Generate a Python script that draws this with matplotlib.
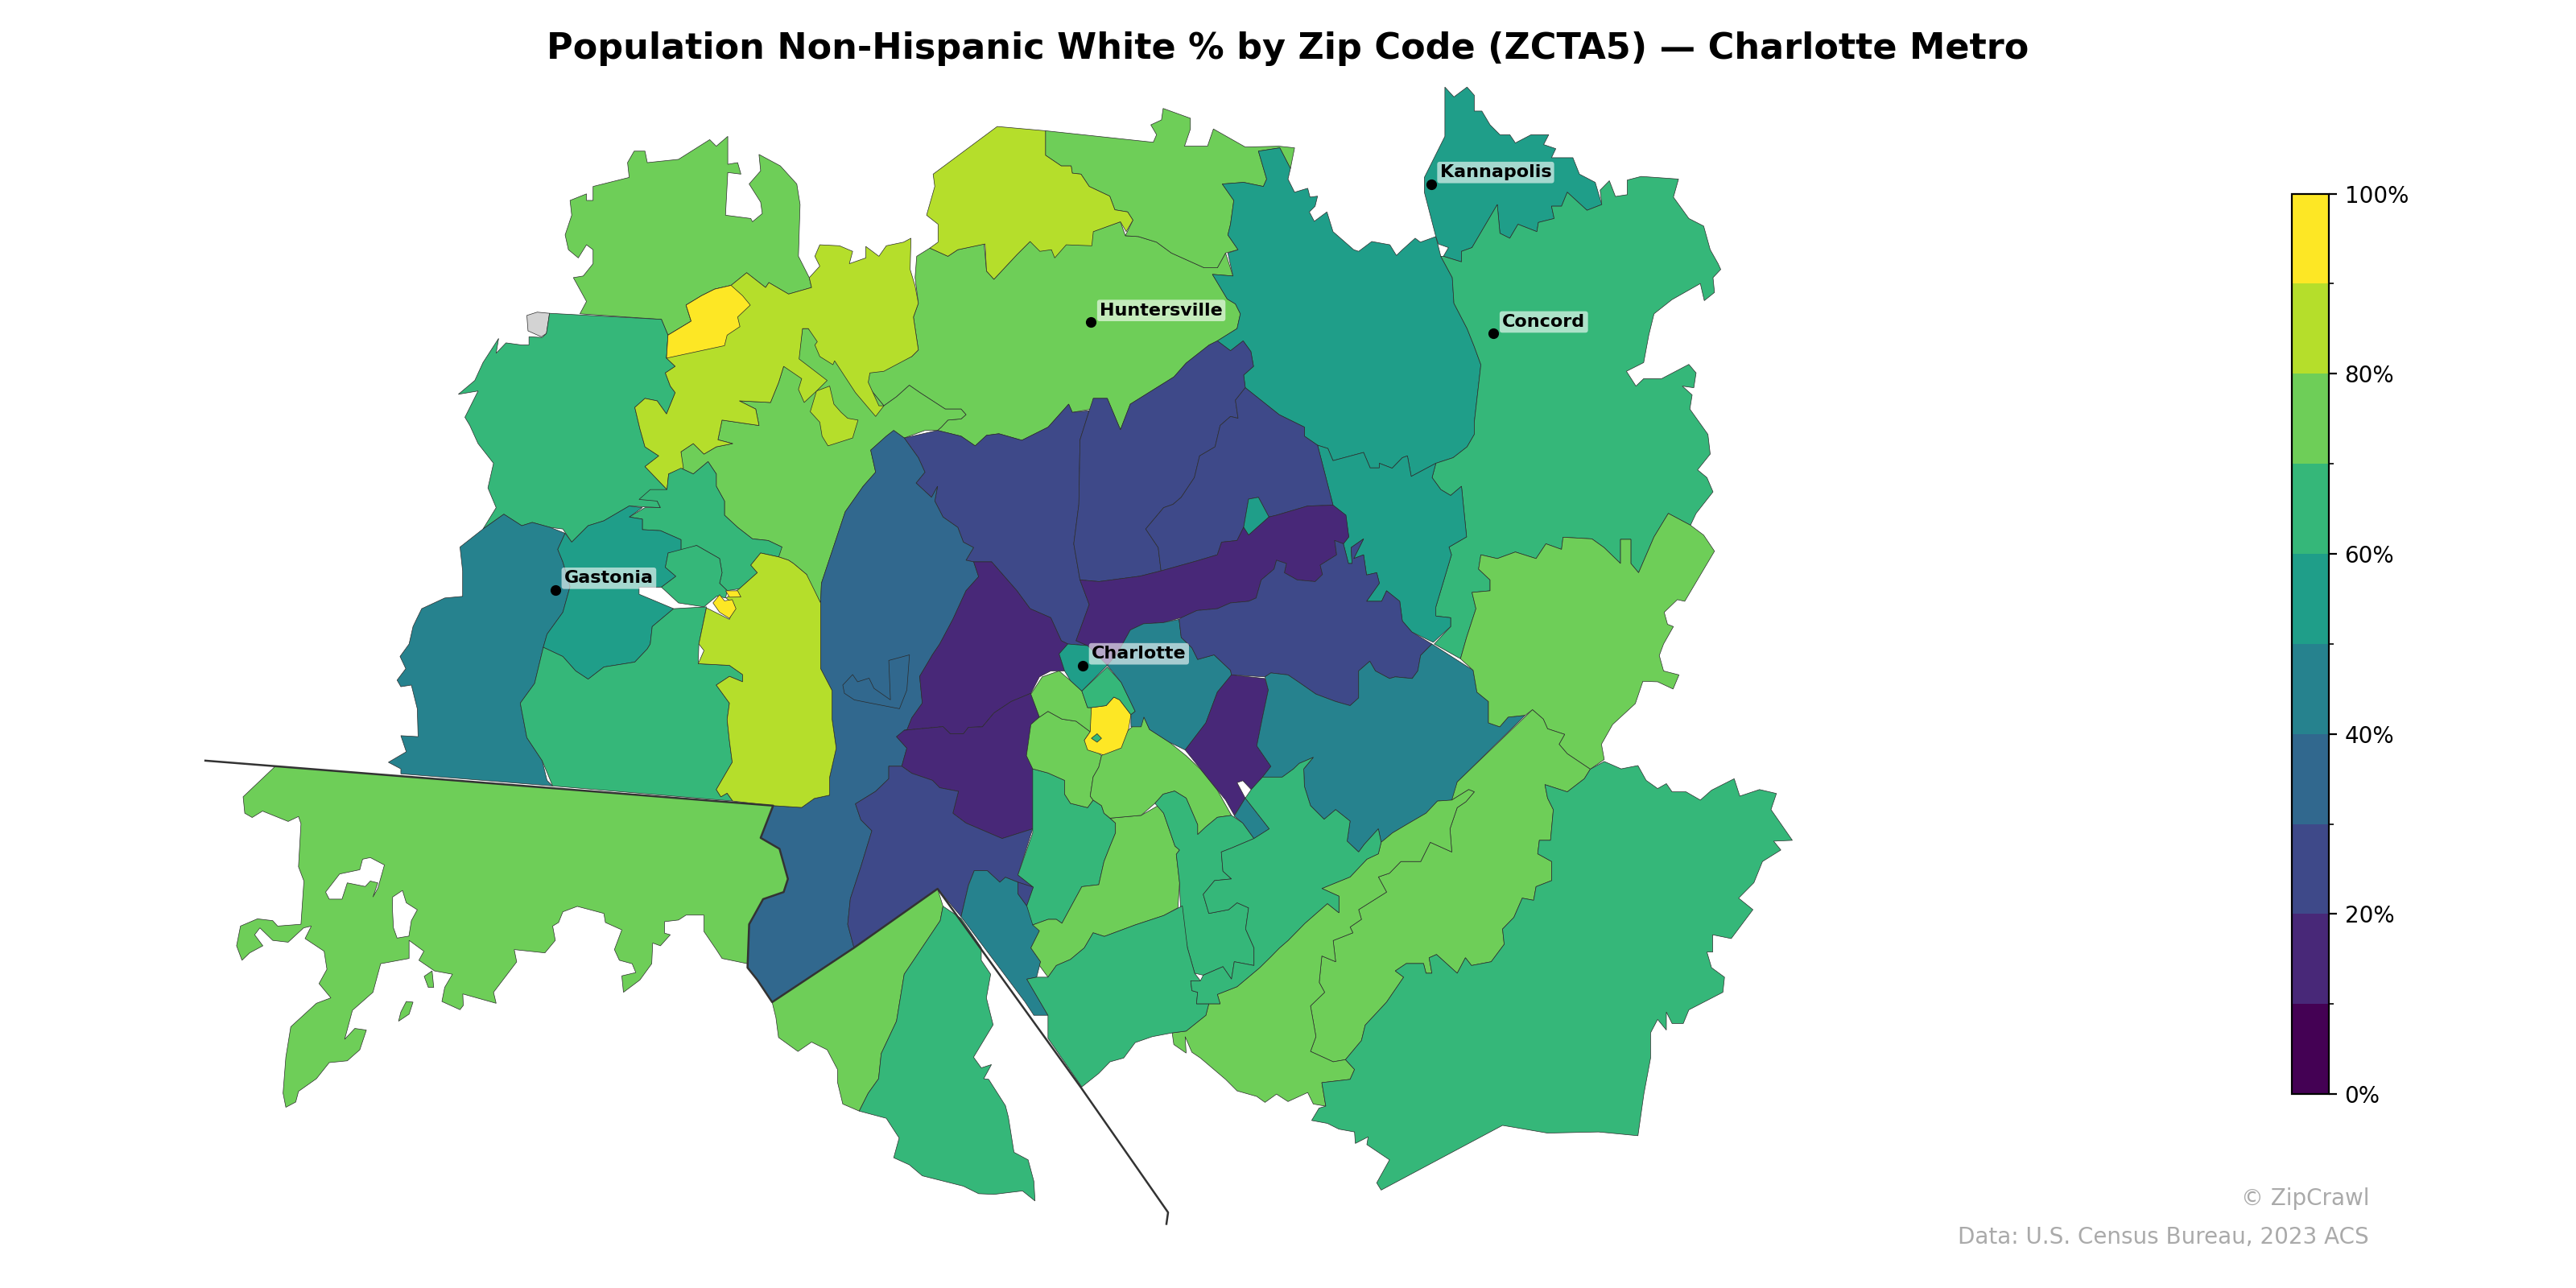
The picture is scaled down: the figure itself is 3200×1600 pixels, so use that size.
import matplotlib
matplotlib.use("Agg")
import matplotlib.pyplot as plt
from matplotlib.colors import Normalize

# outlines are in map units, y grows downward
huntersville = [(557,169),(558,156),(566,151),(577,156),(583,152),(599,148.5),(600.5,165),(605,170),(619,155),(627,147),(640,152),(665,141),(682,135),(685,143.5),(693,144),(704,147.4),(713,154),(733,163),(741,163),(746,154),(750.5,168),(738,167),(747,182),(752,185),(755,191),(753,200),(741,207.5),(736,210),(722,221),(714.6,229.4),(688,246),(682,261.6),(674,242.5),(665.5,242.5),(664.6,249),(652.7,251),(650.5,246),(638,260),(622,268),(608,264),(600.5,265),(593.6,271.4),(585,265.5),(570.7,262),(573,260),(577,255.7),(585,255),(588,252.4),(585,249),(575.4,249),(560,239),(553.5,234.5),(545.7,241.5),(538,247),(520,225),(529,227),(555,217),(559,213),(556,193),(559,184.6)]
central_w = [(422,288.5),(414.5,285),(414.5,275),(422,270),(428.5,276.4),(436,272),(446,270),(437,267.7),(439.5,255.7),(462,259),(460,249),(450,244),(469,245),(474,232.7),(477,223),(486,218),(488.5,200),(492,200),(520,225),(538,247),(545.7,241.5),(553.5,234.5),(560,239),(575.4,249),(585,249),(588,252.4),(585,255),(577,255.7),(573,260),(570.7,262),(563,262),(550.4,266.6),(544,262),(539.5,265.5),(530,274),(533,287.4),(525.4,296),(514.5,311.5),(508,331),(500,355),(499.5,367),(492.6,355),(491,349.7),(483,343),(480,341),(474,339),(463,336.6),(476,333),(467.6,329),(458,328),(449,321),(441,313.6),(441,305),(436,296),(436,288.5),(431,281)]
lake_norman = [(492.6,169),(499,162),(496,156),(499,149),(511,149.6),(519,153),(517,160.5),(527,157),(527,150),(535,156),(539.5,149.6),(550,147.4),(554.5,145),(554,164),(557,174),(559,184.6),(556,193),(559,213),(555,217),(538,226),(529.5,227),(528.5,232.7),(535,247),(538,247),(533,253.5),(520.7,239),(508,219.6),(507,222),(499,217),(496,210),(497.5,208),(492,200),(488.5,200),(486.4,218.5),(503.5,231.6),(497,238),(489.5,245),(486,237),(488,230.5),(477,223),(474,232.7),(469,245),(450,244),(460,249),(462,259),(439.5,255.7),(437,267.7),(446,270),(436,272),(428.5,276.4),(422,270),(414.5,275),(416,285),(407,288.5),(406,298),(392.6,284),(401,277.5),(392.6,272),(389.5,261),(386.4,248),(392.6,242.5),(400,244),(405.7,252),(411,239),(408,235),(405,227),(411,223),(405.7,218),(406.6,204),(420.7,195.5),(417.6,185.7),(427,180),(435,176),(445,173.7),(454.5,166),(466,175),(468,172),(480,179),(494,175)]
lime_islet = [(497,238),(505,235),(507.6,246),(512,251),(516,254.6),(522.3,255.7),(519,266.6),(504,271.4),(500.4,265.5),(499,257),(493.2,250.6)]
lincoln_n = [(353,191),(357,183.5),(349,169),(355,168),(361,160.5),(361,152),(357,149),(352,157),(346,152),(344,143),(348,131),(347,122),(357,118),(357,122),(361,122),(361,113.5),(383,108),(382,99),(386,92),(392.6,92),(394,99),(413,97),(432,85),(436,89),(443,83),(443,100),(449,99),(451,106),(443,105),(441.6,131),(457,133),(458,135),(464,130),(463,123),(456,112),(463,104),(462,94),(475,101),(485,112),(487,124.5),(486,156),(492.6,169),(494,175),(480,179),(468,172),(466,175),(454.5,166),(445,173.7),(435,176),(427,180),(417.6,185.7),(420.7,195.5),(406.6,204),(402.6,194.4)]
north_yellow = [(405.7,218),(406.6,204),(420.7,195.5),(417.6,185.7),(427,180),(435,176),(445,173.7),(452,180),(456.7,185.7),(449,193),(450.4,198.8),(442.6,204),(441,210.4)]
no_data = [(320.7,192),(327,190),(334.5,190.7),(332.6,203),(329.5,205),(321.4,201.4)]
lincoln_s = [(334.5,190.7),(402.6,194.4),(406.6,204),(405.7,218),(411,223),(405,227),(408,235),(411,239),(405.7,252),(400,244),(392.6,242.5),(386.4,248),(389.5,261),(392.6,272),(401,277.5),(392.6,284),(406,298),(400,305),(402,309),(383,308),(367.6,317),(358,320),(348,330),(342.6,322),(334.8,321),(324,318),(317.6,320),(306.7,313),(294,322),(302,309),(297,297),(300.4,282),(291,270),(286,259),(283,254),(291,238),(279,240),(289,231.6),(294,220.7),(303.5,206),(302,215),(308,208.7),(317.6,210),(322,210),(322,205),(330,205.4),(332.6,203)]
mount_holly_n = [(431,281),(422,288.5),(414.5,285),(407,288.5),(406,298),(395.8,298),(389,304),(400,305),(402,309),(392.6,309),(383,314.7),(391,316),(391,322.4),(402,323),(414.5,328.5),(414.5,335.5),(424,332),(438,340),(439.5,348.6),(438,355),(442.6,359.5),(450,358.4),(461,348.6),(457,344),(463,336.6),(474,339),(476,333),(467.6,329),(458,328),(449,321),(441,313.6),(441,305),(436,296),(436,288.5)]
top_lime = [(568,106),(607,77),(636.4,79.6),(636.4,94.5),(646,101),(652,101),(652.7,105.4),(658,106),(663,113.5),(675.5,119.4),(678.6,127.7),(686.4,129),(689.6,134),(685.5,141),(682,135),(665.5,141),(664.6,149.6),(649,149),(642,157),(640,152),(633,153),(627,147),(619,155),(605,170),(600.5,165),(599.6,148.5),(583,152),(577,156),(566,151),(571,147.4),(571,136.5),(564,131),(569,113.5)]
top_green = [(636.4,79.6),(702,86.6),(704,82),(700.5,76),(707,73),(708,66),(724.6,72),(724.6,78.5),(721,89),(735,89),(738.6,78.5),(758,89.5),(778.6,89),(788,90),(785.5,102.6),(779,90),(766,92),(771,109),(769,113.5),(757,111),(744,112),(751,122),(749,136.5),(747.4,143),(753.6,152),(746,154),(741,163),(733,163),(713,154),(704,147.4),(693,144),(685,143.5),(689.6,134),(686.4,129),(678.6,127.7),(675.5,119.4),(663,113.5),(658,106),(652.7,105.4),(652,101),(646,101),(636.4,94.5)]
mooresville_e = [(766,92),(779,90),(785.5,102.6),(784,109),(788,117),(796,114.6),(797.4,120),(802,119.4),(800.5,125.5),(797,129),(800,134.7),(807.7,129),(811.4,141),(824,152),(827,153),(835,147),(846,149),(850,155.5),(853.6,152),(861.4,145),(864.6,147.4),(874,144),(877,156),(884,169),(885,184.6),(893,200),(897.4,211),(901.4,222),(897.4,257),(897.4,264.4),(893,272),(884.5,278.6),(874,282),(859,290),(856.7,277.5),(853.6,278.6),(847.4,285),(839.6,282),(839.6,284.8),(834,284.8),(830,275.4),(811.4,280.4),(808.3,273),(802,271),(794,265.5),(794,260),(778.6,252.4),(758,236),(757,228.3),(763,223),(761.4,214),(756.7,207.5),(749,213.5),(741,207.5),(753,200),(755,191),(752,185),(747,182),(738,167),(750.5,168),(747.4,154),(753.6,152),(747.4,143),(749,136.5),(751,122),(744,112),(757,111),(769,113.5),(771,109)]
kannapolis = [(879.5,53),(885,59),(893,53),(897.4,58),(897.4,67.6),(902,67.6),(907,76),(913,82),(919,82),(922.4,87),(932,82),(942.7,82),(939.6,88),(947,90.5),(944.4,96),(957.4,96),(961.4,106),(971,111),(975,124.5),(966,128),(954,117),(950.5,125.5),(944.4,125.5),(946,133),(936.4,135.4),(935.5,141),(924,136.5),(919,145),(913,142),(911.4,124.5),(896,150.7),(889.6,153),(889.6,159.4),(878.6,156),(881.7,150.7),(875.5,148.5),(874,144),(867,117),(867,108),(879.5,83)]
concord = [(878.6,156),(889.6,159.4),(889.6,153),(896,150.7),(911.4,124.5),(913,142),(919,145),(924,136.5),(935.5,141),(936.4,135.4),(946,133),(944.4,125.5),(950.5,125.5),(954,117),(966,128),(975,124.5),(974,115.7),(979.6,110),(983.3,119.6),(990.5,118.5),(990.5,109.6),(999,107.4),(1021.7,109),(1018.6,120),(1028,133),(1037,137.6),(1041,152),(1045.8,160.5),(1047.4,164),(1042.7,169),(1043.6,178),(1037.4,183),(1035,172.6),(1017.7,182.4),(1006.8,191),(1003.6,204),(1000.5,220.7),(990,226),(995.8,235),(1000.5,230.5),(1011.4,230.5),(1028,221.8),(1032.4,227),(1031,236),(1024,235),(1030,240.4),(1028.6,249),(1039.6,264.4),(1041,276.4),(1033.3,286),(1039,290.7),(1042.7,299.4),(1032.4,312.5),(1029,319.7),(1015.5,312.5),(1006.8,326.8),(997.4,348.6),(992.7,343),(992.7,328.3),(986.4,328.3),(986.4,343),(976.4,333.3),(969,328),(951.4,327),(950.5,334.4),(941,331),(935,340),(922.4,336),(911.4,340),(901.4,337.7),(900,346.4),(907,353),(907,359.6),(896,360.6),(898.4,370.5),(892.7,388),(889,401),(873,392),(883,381.4),(883,376),(874,375),(874,369.4),(883.5,337.7),(882,333),(892.7,326.8),(889.6,296),(883,301.6),(877,298),(871.7,290.7),(874,282),(884.5,278.6),(893,272),(897.4,264.4),(897.4,257),(901.4,222),(897.4,211),(893,200),(885,184.6),(884,169),(877,156)]
harrisburg = [(802,271),(808.3,273),(811.4,280.4),(830,275.4),(834,284.8),(839.6,284.8),(839.6,282),(847.4,285),(853.6,278.6),(856.7,277.5),(859,290),(874,282),(871.7,290.7),(877,298),(883,301.6),(889.6,296),(892.7,326.8),(882,333),(883.5,337.7),(874,369.4),(874,375),(883,376),(883,381.4),(872.4,391),(859.4,384.7),(853.6,378),(852,366),(844,359.6),(841,366),(831.8,366),(839.6,355),(838,348.6),(831.8,350),(830,337.7),(824,340),(830,328),(822.4,333.3),(823,343),(820.8,343),(817.7,331),(821,326.8),(819,313.6),(811.4,307.5)]
north_blue_w = [(550.4,266.6),(570.7,262),(585,265.5),(593.6,271.4),(600.5,265),(608,264),(622,268),(638,260),(650.5,246),(652.7,251),(663,250),(657.4,267.7),(656.7,307),(653.6,331),(657.4,353),(663,368),(655,390),(662,393),(650,392),(646,390),(639.6,376),(627,370.5),(619,359.6),(603.6,342),(592.7,342),(588,341),(592.6,333.3),(586.4,330),(583,321),(574,314.7),(569,305),(570.7,296),(567,302.7),(557.6,294),(563,287.4),(559,278.6)]
north_blue_m = [(663,250),(665.5,242.5),(674,242.5),(682,261.6),(688,246),(714.6,229.4),(722,221),(736,210),(741,207.5),(749,213.5),(756.7,207.5),(761.4,214),(763,223),(757,228.3),(758,236),(752,243.6),(753.6,254.6),(749,253.5),(742.7,259),(739.6,272),(730.2,277.5),(727,290.7),(719,302.7),(714,307),(708.3,309),(697.4,322),(705,333.3),(706.7,347.5),(694,350.7),(669,354),(657.4,353),(653.6,331),(656.7,307),(657.4,267.7)]
north_blue_e = [(758,236),(778.6,252.4),(794,260),(794,265.5),(802,271),(811.4,307.5),(796,308),(777,313.6),(772.4,314.7),(766,302.7),(760,303.8),(757,321),(753,329),(743.6,330),(741,337.7),(728.6,341.4),(706.7,347.5),(705,333.3),(697.4,322),(708.3,309),(714,307),(719,302.7),(727,290.7),(730.2,277.5),(739.6,272),(742.7,259),(749,253.5),(753.6,254.6),(752,243.6)]
teal_sliver = [(757,321),(760,303.8),(766,302.7),(772.4,314.7),(760,325.7)]
east_purple = [(657.4,353),(669,354),(694,350.7),(706.7,347.5),(728.6,341.4),(741,337.7),(743.6,330),(753,329),(757,321),(760,325.7),(772.4,314.7),(777,313.6),(796,308),(811.4,307.5),(819.3,313.6),(821,326.8),(817.7,331),(812.4,329),(813.6,337.7),(803.6,344),(805,349.7),(800.5,354),(789.6,353),(781.8,348.6),(783,343),(777,341),(775.5,346.4),(767.7,353),(764.6,364),(760,366),(749,367),(741,370.5),(728.6,371.6),(719,376),(708,379),(696,379.7),(688,383.5),(680,398),(674,405),(662,393),(655,390),(663,368)]
west_purple = [(592.7,342),(603.6,342),(619,359.6),(627,370.5),(639.6,376),(646,390),(650,392),(644.7,398),(648,408.4),(639.6,408.4),(632.7,412),(627.5,422),(615.5,427),(605,434),(598,442.4),(589.5,442.7),(586.4,446.7),(578.5,446.7),(574,442.3),(550.4,444.5),(552,444.5),(555,437),(561.4,428),(559.8,411.7),(567.6,398.5),(572,392),(580,377),(588,359.6),(595.7,351)]
south_purple = [(545.7,448.4),(550.4,444.5),(574,442.3),(578.5,446.7),(586.4,446.7),(589.5,442.7),(598,442.4),(605,434),(615.5,427),(627.5,422),(632.7,436.5),(627.5,441),(624.8,460),(629,468),(628.6,504.5),(610,510.4),(588,501),(580,495),(583.4,481.7),(572,479.5),(567.6,475),(555,470.7),(548.9,466.4),(552,455.4)]
pineville_blue = [(541,466.4),(541,474),(533,481.7),(520.7,489.3),(524,499),(530.7,505.7),(524,527.6),(517.6,547),(516,562.6),(519.8,576.8),(550.4,556),(570.7,541),(585,558),(589.5,538.5),(593,530),(601,530),(608.6,537),(612,534),(619.6,537),(629,540),(619.6,532.6),(628.6,504.5),(610,510.4),(588,501),(580,495),(583.4,481.7),(572,479.5),(567.6,475),(555,470.7),(548.9,466.4)]
belmont_blue = [(544,262),(550.4,266.6),(559,278.6),(563,287.4),(557.6,294),(567,302.7),(570.7,296),(569,305),(574,314.7),(583,321),(586.4,330),(592.6,333.3),(588,341),(592.7,342),(595.7,351),(588,359.6),(580,377),(572,392),(567.6,398.5),(559.8,411.7),(561.4,428),(555,437),(552,444.5),(545.7,448.4),(552,455.4),(548.9,466.4),(541,466.4),(541,474),(533,481.7),(520.7,489.3),(524,499),(530.7,505.7),(524,527.6),(517.6,547),(516,562.6),(519.8,576.8),(470,610),(461,596.5),(455,589),(456,562.6),(464.5,547.3),(477,543),(479.6,535),(474.5,516.7),(463,510),(470.6,490.4),(488,491.5),(495.7,486),(505,484),(505,473),(509,455.4),(506.5,438),(506.5,420.4),(499.5,407),(499.5,367),(500,355),(508,331),(514.5,311.5),(525.4,296),(533,287.4),(530,274),(539.5,265.5)]
belmont_inner = [(520,426),(514,422),(513,417),(519,410.6),(522,415),(529,412.8),(532,419),(542,426),(541,402),(553.6,398.6),(552,420),(547.5,431.4),(530,428)]
gastonia_w = [(306.7,313),(294,322),(280,333),(281.6,347.5),(281.6,363),(270.7,364),(256.7,370.5),(253.5,377),(251.4,381.4),(249,392),(243.5,399.6),(247,407),(241.7,414),(244,418),(250.4,417),(254,431.4),(254.5,448.4),(244,447.8),(247.3,457.6),(236.4,464),(244,468),(244,471),(336.4,478.4),(333,475),(330,463),(320.7,449),(316.7,428),(325.4,416),(330.7,394),(333,386),(342.6,372.7),(347,357),(342.6,342),(339.5,334.4),(344,324.6),(334.8,321),(324,318),(317.6,320)]
gastonia_e = [(344,324.6),(348,330),(358,320),(367.6,317),(383,308),(391,309),(383,314.7),(391,316),(391,322.4),(402,323),(414.5,328.5),(414.5,335.5),(406.7,336.6),(405,345.3),(411.4,350.8),(402.6,357.4),(389,357.4),(389,361.7),(410,370.5),(397,381.4),(395.8,392),(394,395),(386.4,403),(367.6,406),(358,413.4),(350.4,408.4),(342.6,399.6),(330.7,394),(333,386),(342.6,372.7),(347,357),(342.6,342),(339.5,334.4)]
gastonia_s = [(330.7,394),(342.6,399.6),(350.4,408.4),(358,413.4),(367.6,406),(386.4,403),(394,395),(395.8,392),(397,381.4),(410,370.5),(430,369.4),(425.4,392),(425,404),(444,405),(452,410.6),(452,415),(444,411.7),(436,417),(444,428),(442.6,438),(444,451),(445.7,464),(436,480.6),(438.8,485),(442.6,482.8),(446,487.6),(336.4,478.4),(330,463),(320.7,449),(316.7,428),(325.4,416)]
cramerton = [(406.7,336.6),(424,332),(438,340),(439.5,348.6),(438,355),(442.6,359.5),(441.7,364),(436.4,362.8),(428.5,369.4),(413,367),(402.6,357.4),(411.4,350.8),(405,345.3)]
south_lime = [(463,336.6),(474,339),(480,341),(483,343),(491,349.7),(499.5,367),(499.5,407),(506.5,420.4),(506.5,438),(509,455.4),(505,473),(505,484),(495.7,486),(488,491.5),(470.6,490.4),(446,487.6),(442.6,482.8),(438.8,485),(436,480.6),(445.7,464),(444,451),(442.6,438),(444,428),(436,417),(444,411.7),(452,415),(452,410.6),(444,405),(425,404),(428.5,396),(425.4,392),(430,370),(444,377),(447,368.3),(442,364),(450,358.4),(461,348.6),(457,344)]
tiny_yellow_n = [(441.7,359.6),(449,359.6),(451,363.4),(444,363.5)]
tiny_yellow_s = [(434,367),(438,362),(441,365.7),(445.7,365),(448,370.5),(444,376.4),(438,372.7)]
york_north = [(167.6,466.4),(470.6,490.4),(463,510),(474.5,516.7),(479.6,535),(477,543),(464.5,547.3),(456,562.6),(455,586.6),(439.5,583.4),(436,578),(428.5,567),(428.5,557),(417.6,557),(413,560),(404.5,561),(404.5,568),(408,569),(402,575.7),(397.3,574),(396.7,586.6),(389.5,596.5),(379.5,604),(378.5,594),(387,592),(384.8,586.6),(377,584.5),(374,578),(378.5,566),(368.5,561.5),(367.6,556),(351.4,551.7),(342.6,555),(340,561.5),(336.4,563.7),(338,572.4),(331.7,580),(313,578),(314.5,585.5),(300.4,604),(302,610.7),(281.7,605),(282,612),(280,614.6),(269,609.6),(270.7,601),(275.4,593),(264.5,591),(255,584.5),(258,579),(249,572.4),(249,583.4),(231.7,586.6),(227,604),(214.5,615),(209.8,632.6),(216,626),(223,627),(219,639),(211.4,645.7),(200.4,646.8),(192.6,656.6),(181.7,664.3),(180,670.8),(174,674),(172.3,665.4),(174,643.5),(177,625),(192.6,610.7),(201.4,607.4),(194.2,598.7),(199,590),(197.3,579),(185.7,571.3),(189.5,563.7),(184.8,564.8),(175.4,573.5),(166,572.4),(158.2,564.8),(155,569),(160,575.7),(152,580),(147.3,584.5),(144,575.7),(146.4,563.7),(156.7,559.3),(166,560.4),(169,563.7),(183.2,562.6),(185,536.3),(181.7,527.6),(183.2,501.4),(181.7,497),(175.4,500),(159.8,493.7),(153.5,497.6),(149,495),(148,485)]
york_islet_a = [(247.3,609.6),(251.4,610),(249,617.3),(242.6,621.6),(244,616)]
york_islet_b = [(258.2,594.3),(263,591),(264,601),(260.7,601)]
fort_mill = [(470,610),(519.8,576.8),(570.7,541),(574,551.6),(572.3,560.4),(550.4,593),(545.7,621.6),(536.4,641.3),(534.8,656.6),(528.5,665.4),(523,676.3),(513,672),(509.8,658.8),(509.8,651),(503.5,639),(494,634.3),(485.7,640),(473.9,631.5),(472.3,619.4)]
lancaster = [(574,551.6),(585,559),(597.3,576.8),(597.3,584.5),(603,593),(600.4,607.4),(604.5,623.8),(592.6,643.5),(597.3,650),(603.5,648),(598.8,656.6),(601.8,657),(612,673),(613.8,680),(617.2,701.4),(625.8,706),(629.3,719),(630,731),(622.4,724.9),(605,727),(595.7,726.6),(586.4,722),(561.4,715.7),(553.5,709),(544,704.7),(547.3,692.7),(539.5,680.7),(523,676.3),(528.5,665.4),(534.8,656.6),(536.4,641.3),(545.7,621.6),(550.4,593),(572.3,560.4)]
ballantyne = [(585,558),(589.5,539),(593,530),(601,530),(608.6,537),(612,534),(619.6,537),(619.6,544),(625,551.4),(632.7,566.6),(627.5,577),(633.4,585.4),(631,594.8),(625,596),(637.9,618),(629.3,618),(624,610)]
small_blue = [(619.6,537),(629,540),(625,551.4),(619.6,544)]
south_park_w = [(628.6,468),(637.9,470.5),(648,475),(648,483.4),(651.6,489),(662,491.6),(665.4,487),(670.5,490.4),(672,495),(679,501),(679,507),(675.7,515),(672,524.4),(668.8,538.5),(658.5,539.7),(646.4,562),(643,559.6),(638,559.6),(628.6,563),(625,551.4),(629,540),(619.6,532.6),(628.6,507)]
south_green = [(675.7,498),(694.6,496.3),(704.9,490.4),(708.3,495),(715.2,515),(718,517.4),(716,520),(718,537.3),(717,552.6),(708.3,557.3),(691,563),(672.2,570),(665.4,567.8),(660,577),(651.6,584),(643,587.7),(637.9,594.8),(632.7,587.7),(633.4,585.4),(627.5,577),(632.7,566.6),(628.6,563),(638,559.6),(643,559.6),(646.4,562),(658.5,539.7),(668.8,538.5),(672,524.4),(675.7,515),(679,507),(679,501)]
myers_s = [(637.9,433),(646.4,437.7),(655,439),(663.6,445.4),(660,450.6),(670.5,460),(668.8,467),(665.4,472.9),(663.6,484.6),(665.4,487),(662,491.6),(651.6,489),(648,483.4),(648,475),(637.9,470.5),(628.6,468),(624.8,460),(627.5,441),(632.7,436.5)]
myers_n = [(627.5,422.5),(634.4,412),(644.7,408.4),(651.6,414.3),(658.5,420.6),(662,430.7),(665.4,430.7),(663.6,445.4),(655,439),(646.4,437.7),(637.9,433),(632.7,436.5)]
providence = [(670.5,460),(687.7,443.6),(696.3,436.5),(699.7,444),(711.8,451.8),(722,460),(730.7,468.2),(741,481),(749.6,496.3),(741,497.5),(734,503.3),(729,508),(729,502),(722,485.8),(715,481.5),(708,483.4),(703,489),(694.6,496.3),(675.7,498),(672,495),(670.5,490.4),(665.4,487),(663.6,484.6),(665.4,472.9),(668.8,467)]
myers_yellow = [(664.3,430.7),(673.3,429.5),(678,424.3),(681.5,426),(688.4,435),(687,443.6),(682.5,455.3),(671.5,459.5),(662,456.5),(660,450.6),(663.6,445.4)]
inner_diamond = [(667.8,446.6),(670.5,449.4),(667.8,451.8),(664.3,449.4)]
dilworth = [(658.5,420.6),(674,406),(682.5,415.4),(691,433),(688.4,435),(681.5,426),(678,424.3),(673.3,429.5),(664.3,430.7),(662,430.7)]
uptown = [(644.7,398),(650,392),(662,393),(674,405),(658.5,420.6),(651.6,414.3),(648,408.4)]
eastover = [(674,405),(680,398),(688,383.5),(696,379.7),(708,379),(717.7,377),(719,388),(725.5,394.3),(729,401.4),(739,398.6),(749,408),(749.6,410.8),(741,421.3),(734,440),(721.4,456.5),(711.8,451.8),(699.7,444),(696.3,436.5),(694.6,442.4),(688.4,442.4),(688.4,435),(691,433),(682.5,415.4)]
east_blue = [(717.7,377),(719,376),(728.6,371.6),(741,370.5),(749,367),(760,366),(764.6,364),(767.7,353),(775.5,346.4),(777,341),(783,343),(781.8,348.6),(789.6,353),(800.5,354),(805,349.7),(803.6,344),(813.6,337.7),(812.4,329),(817.7,331),(820.8,343),(823,343),(822.4,333.3),(830,328),(824,340),(830,337.7),(831.8,350),(838,348.6),(839.6,355),(831.8,366),(841,366),(844,359.6),(852,366),(853.6,378),(859.4,384.7),(871.6,392),(864.7,399),(863,408.4),(859.6,413),(849.3,412),(845.8,413),(837.2,408.4),(833.8,402.5),(827,408.4),(827,424.8),(821.8,429.5),(813,427),(801,422.5),(790.8,415.4),(784,410.8),(773.6,409.6),(770,412),(749.6,410.8),(749,408),(739,398.6),(729,401.4),(725.5,394.3),(719,388)]
matthews_purple = [(749.6,410.8),(770,413),(772,420),(768.5,436.5),(765,454),(773.6,466.5),(768.5,473),(761.6,480.6),(756.5,475.2),(753,476.4),(758,485.8),(751.3,496.3),(746,487),(730.7,468),(721.4,456.5),(734,440),(741,421.3)]
mint_hill = [(770,412),(773.6,409.6),(784,410.8),(790.8,415.4),(801,422.5),(813,427),(821.8,429.5),(827,424.8),(827,408.4),(833.8,402.5),(837.2,408.4),(845.8,413),(849.3,412),(859.6,413),(863,408.4),(864.7,399),(871.6,392),(896.7,408),(899,421.3),(906,427),(906,440),(912.9,442.4),(918,436.5),(928.4,435.4),(887,476),(885.4,487),(875,487.6),(868,495),(856,502),(847.6,507),(840.7,512.7),(839,504.5),(830.4,514),(827,518.6),(820,512),(821.8,499.8),(813,492.8),(806,498.7),(797.7,490.4),(794,478.7),(793.6,468),(799.4,461),(790.8,464.7),(787.4,468),(780.5,473),(768.5,473),(773.6,466.5),(765,454),(768.5,436.5),(772,420)]
midland = [(901.4,337.7),(911.4,340),(922.4,336),(935,340),(941,331),(950.5,334.4),(951.4,327),(969,328),(976.4,333.3),(986.4,343),(986.4,328.3),(992.7,328.3),(992.7,343),(997.4,348.6),(1006.8,326.8),(1015.5,312.5),(1029,319.7),(1037,325.7),(1043.6,335.5),(1025.5,366),(1021,365),(1013,372.7),(1015,380),(1018.6,381.4),(1012.6,392),(1010,399),(1012.6,408.4),(1022,410.8),(1018.4,419.4),(1009,415),(1000,414.7),(995.4,428.3),(981.6,441),(974.8,453),(976.5,462.3),(968,468.2),(954,458.8),(949,453),(952.4,447),(942,443.6),(939.4,437.7),(932.8,432),(928.4,435.4),(918,436.5),(912.9,442.4),(906,440),(906,427),(899,421.3),(896.7,408),(889,401),(892.7,388),(898.4,370.5),(896,360.6),(907,359.6),(907,353),(900,346.4)]
monroe_ne = [(932.8,432),(939.4,437.7),(942,443.6),(952.4,447),(949,453),(954,458.8),(968,468.2),(964.4,474),(954,482),(940.4,477.6),(942,485.8),(945.5,492.8),(943.8,511.5),(937,511.5),(936,519.7),(944.5,524.4),(944.5,536),(935,539.7),(933.5,548),(926.6,546.7),(921.5,558.4),(914.6,565.5),(915.6,574.8),(907.7,585.4),(895.7,587.7),(892,583),(887,592.4),(874.4,581),(869.9,583),(871.6,592.4),(868,592.4),(866.5,586.5),(856,586.5),(849.3,591),(854.4,594.8),(844,610),(831,624),(828.7,633.4),(819,645),(811.5,646.3),(797.7,640),(801,631),(797.7,612.3),(806.3,604),(803,598),(804.6,581.9),(813,585.4),(811.5,572.5),(823.5,567.8),(821.8,564.3),(828.7,559.6),(827,553.7),(844,543),(839,533.8),(845.8,531.5),(852.7,524.4),(864.8,524.4),(870.6,512.7),(883.7,518.6),(882.6,504.5),(887,491.6),(892.3,488),(897.4,482),(894,480.6),(883.7,487),(887,476)]
waxhaw_ne = [(868,495),(875,487.6),(883.7,487),(894,480.6),(897.4,482),(892.3,488),(887,491.6),(882.6,504.5),(883.7,518.6),(870.6,512.7),(864.8,524.4),(852.7,524.4),(845.8,531.5),(839,533.8),(844,543),(827,553.7),(828.7,559.6),(821.8,564.3),(823.5,567.8),(811.5,572.5),(813,585.4),(804.6,581.9),(803,598),(806.3,604),(797.7,612.3),(801,631),(797.7,640),(811.5,646.3),(819,645),(824.5,651),(821.8,657),(804.6,659),(807,673.3),(799.4,672),(796,665),(784,670.5),(777,666),(770,671),(765,667.4),(753,664),(746,657),(730.7,644),(725.5,640.5),(721.4,631),(722,641),(714.5,635.8),(713.5,628.7),(722,627.6),(734,618),(735.8,611),(742.7,611),(741,605.3),(753,600.6),(766.8,589),(773.6,582.3),(778.8,577),(784,572.5),(794.3,562),(808,550),(815,555.6),(815,545.5),(804.6,540.8),(821.8,533.8),(832,523),(839,519.7),(840.7,512.7),(847.6,507),(856,502)]
weddington = [(703,489),(708,483.4),(715,481.5),(722,485.8),(729,502),(729,508),(734,503.3),(741,497.5),(749.6,496.3),(756.5,501),(763.3,510.4),(749.6,516.2),(743.4,518.6),(744.4,530.3),(749.6,535),(739.3,536),(732.4,544.4),(735.8,556),(747.9,553.7),(753,549.5),(760,552.6),(758.2,565.5),(763.3,577),(763.3,587.7),(751.3,585.4),(749.6,596),(744.4,588.4),(732.4,593.6),(727.2,592.4),(722.8,577),(718.6,553.7),(718,537.3),(716,520),(718,517.4),(715.2,515),(708.3,495)]
marvin = [(625,596),(631,594.8),(637.9,594.8),(643,587.7),(651.6,584),(660,577),(665.4,567.8),(672.2,570),(691,563),(708.3,557.3),(719.7,551.4),(722.8,577),(727.2,592.4),(730.7,597),(724.8,597),(725.5,603),(729,604),(728.3,611),(735.8,611),(734,618),(722,627.6),(713.5,628.7),(701.4,631),(691,634.6),(684,644),(675.7,646.3),(668.8,653.4),(658.5,661.6),(637.9,632),(637.9,618)]
teal_strip = [(751.3,496.8),(758,485.8),(772.6,504.5),(763.3,510.4),(756.5,501)]
stallings = [(761.6,480.6),(768.5,473),(780.5,473),(787.4,468),(790.8,464.7),(799.4,461),(793.6,468),(794,478.7),(797.7,490.4),(806,498.7),(813,492.8),(821.8,499.8),(820,512),(827,518.6),(830.4,514),(839,504.5),(840.7,512.7),(839,519.7),(832,523),(821.8,533.8),(804.6,540.8),(815,545.5),(815,555.6),(808,550),(794.3,562),(784,572.5),(778.8,577),(773.6,582.3),(766.8,589),(753,600.6),(741,605.3),(742.7,611),(735.8,611),(728.3,611),(729,604),(725.5,603),(724.8,597),(730.7,597),(732.4,593.6),(744.4,588.4),(749.6,596),(751.3,585.4),(763.3,587.7),(763.3,577),(758.2,565.5),(760,552.6),(753,549.5),(747.9,553.7),(735.8,556),(732.4,544.4),(739.3,536),(749.6,535),(744.4,530.3),(743.4,518.6),(749.6,516.2),(763.3,510.4),(772.6,504.5),(758,485.8)]
monroe_se = [(940.4,477.6),(954,482),(964.4,474),(968,468.2),(976.5,463.5),(986.8,468),(997,466),(1002,475),(1009,480),(1014.3,477),(1017.8,482),(1026.3,482),(1035,487),(1041.8,481),(1055.6,474),(1059,484.6),(1071,480.6),(1081.3,483),(1078,492.8),(1091,511.5),(1079.6,512),(1084,517.4),(1072.8,524.4),(1067.6,537.3),(1058.3,546.7),(1067,553.7),(1053.8,571.3),(1042.5,569),(1042.5,579.5),(1039,579.5),(1041.8,589),(1049.7,594.8),(1048.7,604),(1028,614.7),(1024.6,623),(1017.8,623),(1014.3,616),(1014.3,627),(1009,620.5),(1004.7,628.7),(1004.7,644),(1000.6,666),(997,691.3),(973,689),(942,689.7),(914.6,685),(840.7,724.4),(838,720),(845.8,706),(832,696.7),(832.8,692),(825,696),(824.5,689),(815,687.3),(808,683.8),(798.4,682),(802.9,674.5),(807,673.3),(804.6,659),(821.8,657),(824.5,651),(819,645),(828.7,633.4),(831,624),(844,610),(854.4,594.8),(849.3,591),(856,586.5),(866.5,586.5),(868,592.4),(871.6,592.4),(869.9,583),(874.4,581),(887,592.4),(892,583),(895.7,587.7),(907.7,585.4),(915.6,574.8),(914.6,565.5),(921.5,558.4),(926.6,546.7),(933.5,548),(935,539.7),(944.5,536),(944.5,524.4),(936,519.7),(937,511.5),(943.8,511.5),(945.5,492.8),(942,485.8)]

# water cut out of the York county shape
york_hole_a = [(198.2,543),(206.7,532),(219,529.4),(220.7,523),(225.4,522),(234,526.5),(230,540.7),(227,546),(230,537.4),(225.4,536.3),(222.3,539.6),(211.4,537.4),(208.2,547.3),(200.4,547.3)]
york_hole_b = [(239,546),(245,542),(247.3,549.5),(254,553.8),(250.4,560.4),(248.9,569.8),(241.7,571),(239.5,564.8),(238.9,553.8)]

# painted in this order, later shapes sit on top
zip_shapes = [huntersville, central_w, lincoln_n, lincoln_s, lake_norman, lime_islet, north_yellow, mount_holly_n,
              top_green, top_lime, mooresville_e, kannapolis, concord, harrisburg, north_blue_w, north_blue_m,
              north_blue_e, teal_sliver, east_purple, belmont_blue, belmont_inner, west_purple, south_purple,
              pineville_blue, gastonia_w, gastonia_e, gastonia_s, cramerton, south_lime, tiny_yellow_n,
              tiny_yellow_s, york_north, york_islet_a, york_islet_b, fort_mill, lancaster, ballantyne, small_blue,
              south_park_w, south_green, myers_s, myers_n, providence, myers_yellow, inner_diamond, dilworth,
              uptown, eastover, east_blue, matthews_purple, mint_hill, midland, monroe_ne, waxhaw_ne, weddington,
              marvin, teal_strip, stallings, monroe_se]
zip_values = [75, 75, 75, 65, 85, 85, 95, 65,
              75, 85, 55, 55, 65, 55, 25, 25,
              25, 55, 15, 35, 35, 15, 15,
              25, 45, 55, 65, 65, 85, 95,
              95, 75, 75, 75, 75, 65, 45, 25,
              65, 75, 75, 75, 75, 95, 65, 65,
              55, 45, 25, 15, 45, 75, 75, 75, 65,
              65, 45, 65, 65]

state_border = [(125,463),(470.6,490.4),(463,510),(474.5,516.7),(479.6,535),(477,543),(464.5,547.3),(456,562.6),(455,589),(461,596.5),(470,610),(520,576.8),(570.7,541),(658,662),(711,738),(710,745)]

city_names = ["Kannapolis", "Concord", "Huntersville", "Gastonia", "Charlotte"]
city_x = [871, 909, 664, 338, 659]
city_y = [112, 203, 196, 359, 405]

cbar_ticks = [0, 20, 40, 60, 80, 100]
cbar_minor = [10, 30, 50, 70, 90]

cmap = plt.get_cmap("viridis", 10)
norm = Normalize(0, 100)

fig = plt.figure(figsize=(16, 8), dpi=200)
ax = fig.add_axes([0, 0, 1, 1])
ax.set_xlim(0, 1568)
ax.set_ylim(784, 0)
ax.axis("off")

edge = "#2a2a2a"
ax.fill(*zip(*no_data), facecolor="#d3d3d3", edgecolor=edge, linewidth=0.25)
for shape, val in zip(zip_shapes, zip_values):
    ax.fill(*zip(*shape), facecolor=cmap(norm(val)), edgecolor=edge, linewidth=0.25)
for hole in [york_hole_a, york_hole_b]:
    ax.fill(*zip(*hole), facecolor="white", edgecolor=edge, linewidth=0.25)
ax.plot(*zip(*state_border), color="#333333", linewidth=0.9, solid_joinstyle="round")

ax.scatter(city_x, city_y, s=14, color="black", zorder=5)
for name, x, y in zip(city_names, city_x, city_y):
    ax.annotate(name, (x, y), xytext=(4, 3), textcoords="offset points", fontsize=8, fontweight="bold",
                zorder=6, bbox=dict(boxstyle="round,pad=0.15", facecolor="white", edgecolor="none", alpha=0.6))

fig.text(0.5, 0.9625, "Population Non-Hispanic White % by Zip Code (ZCTA5) \u2014 Charlotte Metro",
         ha="center", va="center", fontsize=16, fontweight="bold")

cax = fig.add_axes([0.8897, 0.1506, 0.0144, 0.699])
sm = plt.cm.ScalarMappable(norm=norm, cmap=cmap)
cbar = fig.colorbar(sm, cax=cax)
cbar.set_ticks(cbar_ticks)
cbar.set_ticklabels([f"{t}%" for t in cbar_ticks])
cbar.ax.set_yticks(cbar_minor, minor=True)
cbar.ax.tick_params(labelsize=10)

fig.text(0.9197, 0.0695, "\u00a9 ZipCrawl", ha="right", va="center", fontsize=10, color="#aaaaaa")
fig.text(0.9197, 0.0395, "Data: U.S. Census Bureau, 2023 ACS", ha="right", va="center", fontsize=10, color="#aaaaaa")

fig.savefig("out.png", dpi=200)
